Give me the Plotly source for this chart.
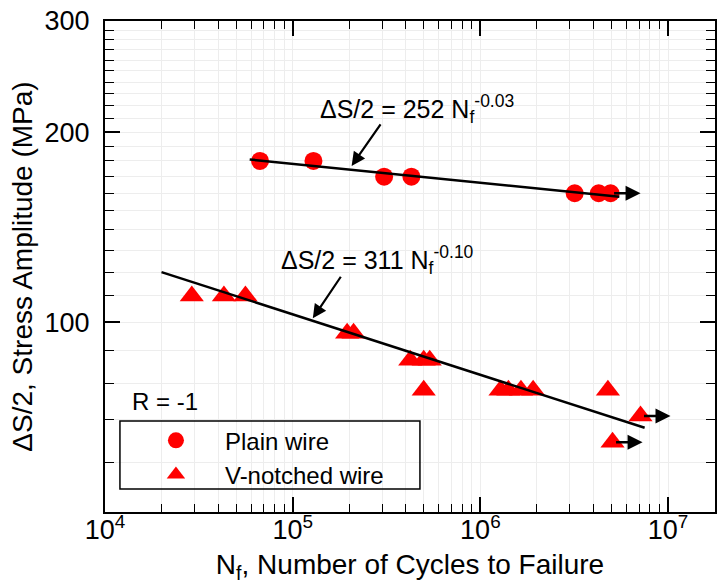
import plotly.graph_objects as go
import numpy as np

# ---------------- data ----------------
plain_N = [6.7e4, 1.29e5, 3.07e5, 4.29e5, 3.18e6, 4.27e6, 4.94e6]
plain_S = [180, 180, 170, 170, 160, 160, 160]

notch_N = [2.9e4, 4.3e4, 5.6e4, 1.95e5, 2.11e5, 4.23e5, 4.99e5, 5.37e5,
           4.99e5, 1.28e6, 1.41e6, 1.645e6, 1.91e6, 4.78e6, 7.13e6, 5.06e6]
notch_S = [110, 110, 110, 96, 96, 87, 87, 87,
           78, 78, 78, 78, 78, 78, 71, 64.5]

fit_plain_N = [5.9e4, 5.5e6]
fit_plain_S = [181, 158]
fit_notch_N = [2.0e4, 7.5e6]
fit_notch_S = [120, 68]

runout_N = [4.94e6, 7.13e6, 5.06e6]
runout_S = [160, 71, 64.5]

x_tickvals = [1e4, 1e5, 1e6, 1e7]
x_ticktext = ["10<sup>4</sup>", "10<sup>5</sup>", "10<sup>6</sup>", "10<sup>7</sup>"]
y_tickvals = [100, 200, 300]
y_ticktext = ["100", "200", "300"]

eq_plain = "ΔS/2 = 252 N<sub>f</sub><sup>-0.03</sup>"
eq_notch = "ΔS/2 = 311 N<sub>f</sub><sup>-0.10</sup>"

# ---------------- figure ----------------
FONT = "Liberation Sans, Arial, Helvetica, sans-serif"
RED = "#FF0000"

x_minor = [m * 10 ** d for d in range(4, 8) for m in range(2, 10)]
y_minor = [v for v in range(50, 300, 10) if v not in y_tickvals]

fig = go.Figure()
fig.add_trace(go.Scatter(x=plain_N, y=plain_S, mode="markers", name="Plain wire",
                         marker=dict(symbol="circle", size=18, color=RED)))
fig.add_trace(go.Scatter(x=notch_N, y=notch_S, mode="markers", name="V-notched wire",
                         marker=dict(symbol="triangle-up", size=21, color=RED)))
fig.add_trace(go.Scatter(x=fit_plain_N, y=fit_plain_S, mode="lines", showlegend=False,
                         line=dict(color="black", width=2.5)))
fig.add_trace(go.Scatter(x=fit_notch_N, y=fit_notch_S, mode="lines", showlegend=False,
                         line=dict(color="black", width=2.5)))

# run-out arrows
for n, s in zip(runout_N, runout_S):
    fig.add_annotation(x=np.log10(n), y=np.log10(s), xref="x", yref="y", text="",
                       showarrow=True, ax=-28, ay=0, xshift=30, arrowhead=2,
                       arrowsize=1.2, arrowwidth=2.5, arrowcolor="black", standoff=0)

# callout arrows
fig.add_annotation(x=np.log10(2.06e5), y=np.log10(176.8), text="", showarrow=True,
                   ax=30, ay=-43, arrowhead=2, arrowsize=1.25, arrowwidth=2.2,
                   arrowcolor="black", standoff=0)
fig.add_annotation(x=np.log10(1.28e5), y=np.log10(101.4), text="", showarrow=True,
                   ax=29, ay=-43, arrowhead=2, arrowsize=1.25, arrowwidth=2.2,
                   arrowcolor="black", standoff=0)

# equation texts
fig.add_annotation(x=np.log10(1.37e5), y=np.log10(218), text=eq_plain, showarrow=False,
                   xanchor="left", yanchor="middle", font=dict(size=25, color="black", family=FONT))
fig.add_annotation(x=np.log10(8.5e4), y=np.log10(125.4), text=eq_notch, showarrow=False,
                   xanchor="left", yanchor="middle", font=dict(size=25, color="black", family=FONT))
fig.add_annotation(x=np.log10(1.36e4), y=np.log10(74.7), text="R = -1", showarrow=False,
                   xanchor="left", yanchor="middle", font=dict(size=24, color="black", family=FONT))

# legend frame (the legend itself is transparent, like the reference)
fig.add_shape(type="rect", xref="paper", yref="paper", x0=0.0245, x1=0.5163,
              y0=0.0468, y1=0.1853, line=dict(color="black", width=1.5),
              fillcolor="rgba(0,0,0,0)", layer="above")

axis_common = dict(
    type="log", showline=True, linecolor="black", linewidth=2, mirror="allticks",
    ticks="inside", ticklen=15, tickwidth=1.5, tickcolor="black",
    showgrid=True, gridcolor="#ededed", gridwidth=1,
    tickfont=dict(size=27, color="black", family=FONT),
)

fig.update_layout(
    width=718, height=588,
    margin=dict(l=105, r=1, t=21, b=76, pad=0),
    paper_bgcolor="white", plot_bgcolor="white",
    font=dict(family=FONT, color="black", size=24),
    xaxis=dict(axis_common, range=[4, 7.25], tickmode="array", tickvals=x_tickvals,
               ticktext=x_ticktext, ticklabelstandoff=-7,
               minor=dict(tickmode="array", tickvals=x_minor, ticks="inside", ticklen=8,
                          tickwidth=1.2, tickcolor="black", showgrid=True,
                          gridcolor="#ededed", gridwidth=1),
               title=dict(text="N<sub>f</sub>, Number of Cycles to Failure",
                          font=dict(size=28, color="black", family=FONT), standoff=10)),
    yaxis=dict(axis_common, range=[np.log10(50), np.log10(300)], tickmode="array",
               tickvals=y_tickvals, ticktext=y_ticktext, ticklabelstandoff=8,
               minor=dict(tickmode="array", tickvals=y_minor, ticks="inside", ticklen=9,
                          tickwidth=1.2, tickcolor="black", showgrid=True,
                          gridcolor="#ededed", gridwidth=1),
               title=dict(text="ΔS/2, Stress Amplitude (MPa)",
                          font=dict(size=28, color="black", family=FONT), standoff=4)),
    legend=dict(x=0.0245, y=0.191, xanchor="left", yanchor="top",
                bgcolor="rgba(0,0,0,0)", borderwidth=0,
                font=dict(size=24, color="black", family=FONT),
                indentation=7, itemwidth=88,
                tracegroupgap=0, itemsizing="trace"),
    showlegend=True,
)

fig.write_html("out.html")
